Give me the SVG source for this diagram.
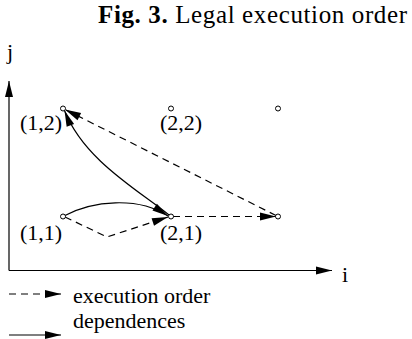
<svg xmlns="http://www.w3.org/2000/svg" width="412" height="339" viewBox="0 0 412 339">
<style>
.t{font-family:'Liberation Serif','Times New Roman',serif;fill:#000}
.lbl{font-size:22px}
.ln{fill:none;stroke:#000;stroke-width:1.2}
.dash{stroke-dasharray:7 5}
.node{fill:#fff;stroke:#000;stroke-width:1}
</style>
<defs>
<marker id="ah" markerUnits="userSpaceOnUse" markerWidth="17" markerHeight="9" refX="16" refY="4" orient="auto" overflow="visible">
<path d="M0,0 L16,4 L0,8 Z" fill="#000"/>
</marker>
</defs>
<rect width="412" height="339" fill="#fff"/>
<text class="t" x="98" y="23" font-size="25" textLength="309" lengthAdjust="spacing"><tspan font-weight="bold">Fig. 3.</tspan> Legal execution order</text>
<g id="axes">
<line class="ln" x1="9" y1="270.5" x2="9" y2="81" marker-end="url(#ah)"/>
<line class="ln" x1="9" y1="270.5" x2="332" y2="270.5" marker-end="url(#ah)"/>
<text class="t lbl" x="7" y="59">j</text>
<text class="t lbl" x="342" y="282">i</text>
</g>
<g id="connectors">
<path class="ln dash" d="M65,217 L107,237 L168,217" marker-end="url(#ah)"/>
<path class="ln dash" d="M173,216.5 L276,216.5" marker-end="url(#ah)"/>
<path class="ln dash" d="M276,215.5 L65,109.5" marker-end="url(#ah)"/>
<path class="ln" d="M65,215.5 C92,201 138,196 168,216" marker-end="url(#ah)"/>
<path class="ln" d="M169,215 C138,190 84,160 64.5,110.5" marker-end="url(#ah)"/>
</g>
<g id="n11"><circle class="node" cx="63" cy="216.5" r="2.5"/><text class="t lbl" x="20" y="240">(1,1)</text></g>
<g id="n21"><circle class="node" cx="171" cy="216.5" r="2.5"/><text class="t lbl" x="160" y="240">(2,1)</text></g>
<g id="n31"><circle class="node" cx="278" cy="216.5" r="2.5"/></g>
<g id="n12"><circle class="node" cx="63" cy="108.5" r="2.5"/><text class="t lbl" x="20" y="130">(1,2)</text></g>
<g id="n22"><circle class="node" cx="171" cy="108.5" r="2.5"/><text class="t lbl" x="160" y="130">(2,2)</text></g>
<g id="n32"><circle class="node" cx="278" cy="108.5" r="2.5"/></g>
<g id="legend">
<line class="ln dash" x1="9" y1="294" x2="61" y2="294" marker-end="url(#ah)"/>
<text class="t lbl" x="73" y="303">execution order</text>
<line class="ln" x1="9" y1="335" x2="61" y2="335" marker-end="url(#ah)"/>
<text class="t lbl" x="73" y="328">dependences</text>
</g>
</svg>
